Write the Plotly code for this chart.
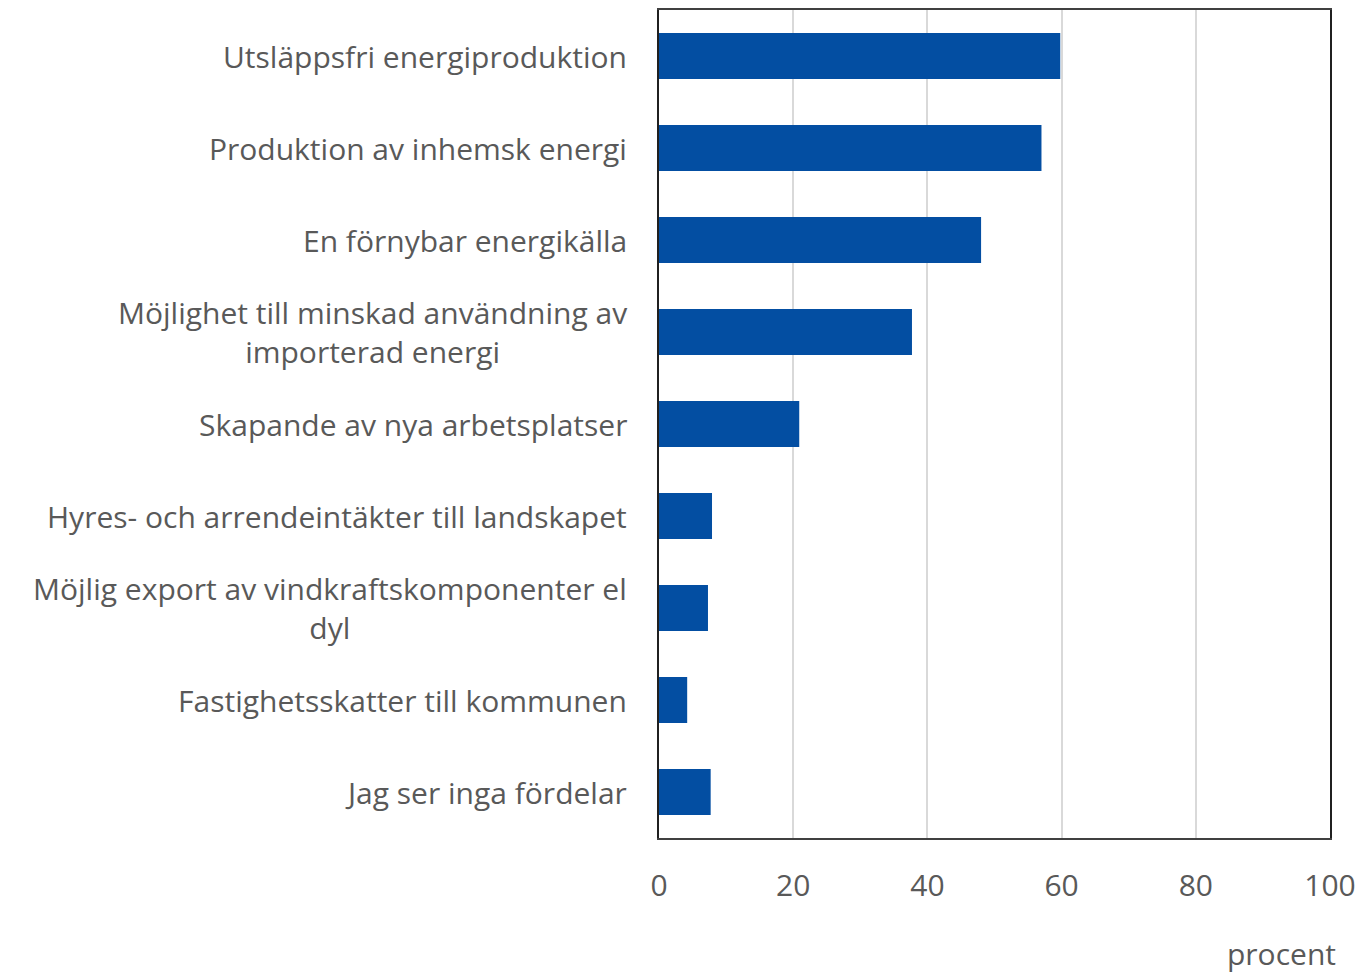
import plotly.graph_objects as go

categories = [
    "Utsläppsfri energiproduktion",
    "Produktion av inhemsk energi",
    "En förnybar energikälla",
    "Möjlighet till minskad användning av<br>importerad energi",
    "Skapande av nya arbetsplatser",
    "Hyres- och arrendeintäkter till landskapet",
    "Möjlig export av vindkraftskomponenter el<br>dyl",
    "Fastighetsskatter till kommunen",
    "Jag ser inga fördelar",
]
values = [59.8, 57.0, 48.0, 37.7, 20.9, 7.9, 7.3, 4.2, 7.7]
x_ticks = [0, 20, 40, 60, 80, 100]
x_title = "procent"

FONT = "Open Sans"
GREY = "#595959"
FS = 30

fig = go.Figure()
fig.add_trace(go.Bar(
    x=values, y=categories, orientation="h",
    marker=dict(color="#034EA2", line=dict(width=0)),
    hoverinfo="x+y",
))

for c in categories:
    fig.add_annotation(
        x=0, xref="paper", y=c, yref="y", text=c, showarrow=False,
        xanchor="right", yanchor="middle", xshift=-30, align="center",
        font=dict(family=FONT, size=FS, color=GREY),
    )

fig.add_annotation(
    x=1, xref="paper", y=0, yref="paper", yshift=-115,
    text=x_title, showarrow=False, xanchor="right", yanchor="middle",
    xshift=8, font=dict(family=FONT, size=FS, color=GREY),
)

fig.update_layout(
    width=1364, height=974,
    margin=dict(l=659, r=32, t=8, b=136),
    paper_bgcolor="white", plot_bgcolor="white",
    bargap=0.5, showlegend=False,
    font=dict(family=FONT, size=FS, color=GREY),
)
fig.update_xaxes(
    range=[0, 100], tickvals=x_ticks, ticks="", ticklen=0,
    showgrid=True, gridcolor="#d9d9d9", gridwidth=2,
    showline=True, linecolor="#404040", linewidth=1.5, mirror=True,
    zeroline=False, tickfont=dict(family=FONT, size=FS, color=GREY),
    ticklabelstandoff=20, ticklabeloverflow="allow",
)
fig.update_yaxes(
    categoryorder="array", categoryarray=categories[::-1],
    showticklabels=False, ticks="",
    showline=True, linecolor="#202020", linewidth=1.5, mirror=True,
    showgrid=False, zeroline=False,
)

fig.write_html(
    "out.html",
    config={"displayModeBar": False},
    post_script="document.body.style.margin='0';document.body.style.overflow='hidden';",
)
